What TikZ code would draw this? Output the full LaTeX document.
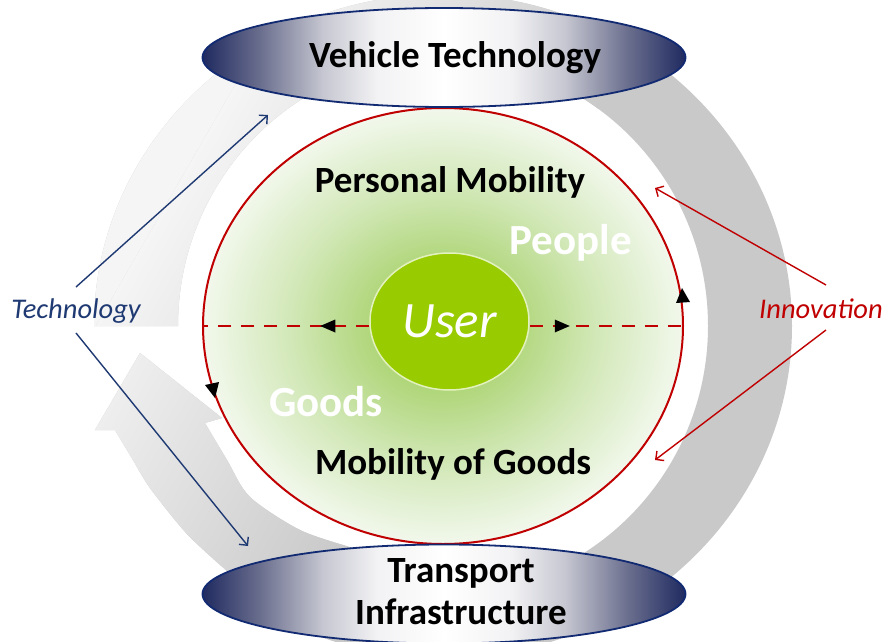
\documentclass[tikz,border=0pt]{standalone}
\usepackage{fontspec}
\setmainfont{Carlito}
\usetikzlibrary{shapes.geometric,arrows.meta,decorations.markings}
\definecolor{navy}{HTML}{1F2A60}
\definecolor{navyline}{HTML}{112A72}
\definecolor{navmid}{HTML}{6B6F8E}
\definecolor{navlight}{HTML}{C6C7D1}
\definecolor{navwhite}{HTML}{F2F2F4}
\definecolor{techblue}{HTML}{1F3A73}
\definecolor{darkred}{HTML}{C00000}
\definecolor{usergreen}{HTML}{99CC00}
\definecolor{userrim}{HTML}{E2F1BE}
\definecolor{ringlight}{HTML}{F5F5F5}
\definecolor{ringdark}{HTML}{C9C9C9}
\definecolor{gA}{HTML}{9CCD50}
\definecolor{gB}{HTML}{B2D77E}
\definecolor{gC}{HTML}{D2E8B8}
\definecolor{gD}{HTML}{F2F8EC}
\pgfdeclarehorizontalshading{navyshade}{100bp}{color(0bp)=(navy); color(25bp)=(navy); color(31bp)=(navmid); color(37.5bp)=(navlight); color(43bp)=(navwhite); color(50bp)=(white); color(57bp)=(navwhite); color(62.5bp)=(navlight); color(69bp)=(navmid); color(75bp)=(navy); color(100bp)=(navy)}
\pgfdeclareradialshading{greenglow}{\pgfpoint{0bp}{0bp}}{color(0bp)=(gA); color(8bp)=(gB); color(16bp)=(gC); color(25bp)=(gD); color(50bp)=(gD)}
\tikzset{
  capsule/.style={ellipse, shade, shading=navyshade, draw=navyline, line width=1.8pt, minimum width=483pt, minimum height=99pt, inner sep=0pt},
  bigtext/.style={font=\bfseries\fontsize{37}{42}\selectfont, inner sep=0pt, align=center},
  whitetext/.style={font=\bfseries\fontsize{43}{48}\selectfont, text=white, inner sep=0pt},
  techarrow/.style={draw=techblue, line width=1.4pt, -{Straight Barb[length=6pt,width=12pt]}},
  innoarrow/.style={draw=darkred, line width=1.4pt, -{Straight Barb[length=6pt,width=12pt]}},
  dashline/.style={draw=darkred, line width=2.5pt, dash pattern=on 13pt off 10pt},
  flowtip/.style={fill=black}
}
\begin{document}
\begin{tikzpicture}[x=1pt,y=-1pt]
\useasboundingbox (0,0) rectangle (884,642);
\fill[white] (0,0) rectangle (884,642);
% grey circular arrow
\begin{scope}
\clip (94,326) arc[start angle=180,end angle=480,x radius=349,y radius=332]
  -- plot[smooth] coordinates {(227,571) (187,534) (150,488) (133,460) (115,430)}
  -- (95,430) -- (140,353) -- (222,418) -- (205,423)
  -- plot[smooth] coordinates {(205,423) (227,460) (250,497) (300,530) (350,547)}
  -- (443,594) arc[start angle=90,end angle=-180,x radius=265,y radius=268] -- cycle;
\fill[ringdark] (0,0) rectangle (884,700);
\fill[ringlight, transform canvas={rotate=-30}] (-100,-600) rectangle (246,900);
\shade[left color=ringlight, right color=ringdark, transform canvas={rotate=-30}] (246,-600) rectangle (572,900);
\end{scope}
% mobility circle
\node[ellipse, shade, shading=greenglow, draw=darkred, line width=2pt, minimum width=480pt, minimum height=436pt, inner sep=0pt] (redc) at (443,326) {};
\fill[flowtip] (682,288) -- (676,303) -- (690,302) -- cycle;
\fill[flowtip] (215,398) -- (205,385) -- (219,382) -- cycle;
% user
\node[ellipse, fill=usergreen, draw=userrim, line width=1.5pt, minimum width=159pt, minimum height=137pt, inner sep=0pt, text=white, font=\itshape\fontsize{51}{55}\selectfont] (user) at (449.5,321.5) {User};
\draw[dashline, postaction={decorate}, decoration={markings, mark=at position 49pt with {\fill[black] (0pt,0pt) -- (-15pt,6.5pt) -- (-15pt,-6.5pt) -- cycle;}}] (user.west |- redc.center) -- (redc.west);
\draw[dashline, postaction={decorate}, decoration={markings, mark=at position 40pt with {\fill[black] (0pt,0pt) -- (-15pt,6.5pt) -- (-15pt,-6.5pt) -- cycle;}}] (user.east |- redc.center) -- (redc.east);
% capsules
\node[capsule] (vt) at (444,57.5) {};
\node[bigtext] (vtlabel) at (455,58) {Vehicle Technology};
\node[capsule] (ti) at (444,594) {};
\node[bigtext] (tilabel) at (461,592) {Transport\\Infrastructure};
% inner labels
\node[bigtext] (pm) at (450,182) {Personal Mobility};
\node[bigtext] (mg) at (453,464) {Mobility of Goods};
\node[whitetext] (people) at (570.5,243) {People};
\node[whitetext] (goods) at (326,402) {Goods};
% side labels
\node[font=\itshape\fontsize{28.5}{32}\selectfont, text=techblue, inner sep=0pt] (tech) at (76,311) {Technology};
\node[font=\itshape\fontsize{28.5}{32}\selectfont, text=darkred, inner sep=0pt, anchor=west] (inno) at (759,309) {Innovation};
\coordinate (techUp) at (76,287);
\coordinate (techDn) at (76,333);
\coordinate (vtTip) at (268,115);
\coordinate (tiTip) at (248,546);
\coordinate (innoUp) at (826,285);
\coordinate (innoDn) at (826,330);
\coordinate (pmTip) at (655,188);
\coordinate (mgTip) at (655,460);
\draw[techarrow] (techUp) -- (vtTip);
\draw[techarrow] (techDn) -- (tiTip);
\draw[innoarrow] (innoUp) -- (pmTip);
\draw[innoarrow] (innoDn) -- (mgTip);
\end{tikzpicture}
\end{document}
